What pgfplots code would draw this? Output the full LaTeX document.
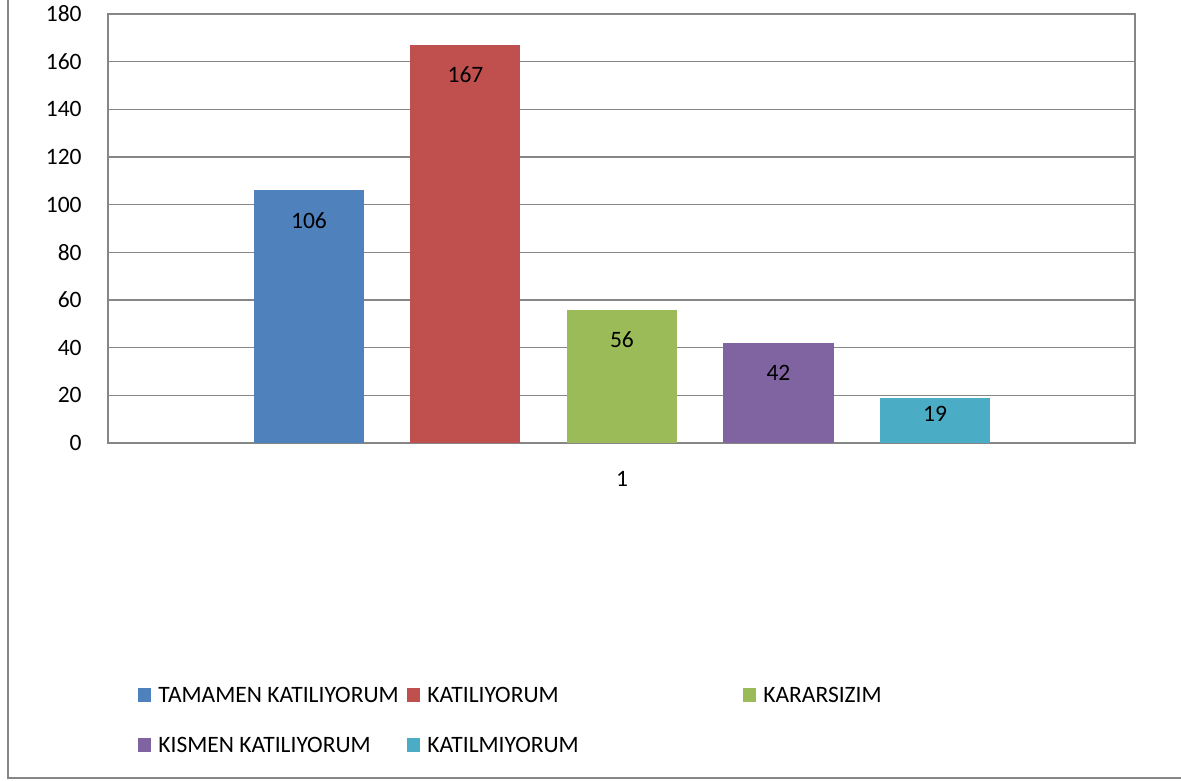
\documentclass[border=0pt]{standalone}
\usepackage{fontspec}
\setmainfont{Carlito}
\usepackage{pgfplots}
\pgfplotsset{compat=1.18}
\definecolor{cblue}{HTML}{4F81BD}
\definecolor{cred}{HTML}{C0504D}
\definecolor{cgreen}{HTML}{9BBB59}
\definecolor{cpurple}{HTML}{8064A2}
\definecolor{cteal}{HTML}{4BACC6}
\definecolor{gridgray}{HTML}{868686}
\pgfplotsset{
  mybar/.style={ybar, bar width=0.703, bar shift=0pt, draw=none, fill=#1,
    legend image code/.code={\fill[#1] (0bp,0.4bp) rectangle (6.5bp,7.2bp);}},
}
\begin{document}
\fontsize{11.75bp}{14bp}\selectfont
\begin{tikzpicture}
\begin{axis}[
  at={(54bp,-221.5bp)}, anchor=south west,
  scale only axis, width=513.5bp, height=214.5bp,
  xmin=-1.284, xmax=5.278, ymin=0, ymax=180,
  ytick={0,20,...,180}, xtick={2}, xticklabels={1},
  major tick length=0pt,
  ymajorgrids, grid style={gridgray, line width=0.75bp},
  axis line style={gridgray, line width=0.75bp},
  tick label style={font=\fontsize{11.75bp}{14bp}\selectfont},
  yticklabel style={anchor=east, inner sep=0pt, xshift=-13bp},
  xticklabel style={anchor=north, inner sep=0pt, yshift=-14bp},
  /pgf/number format/assume math mode=true,
  nodes near coords,
  every node near coord/.append style={font=\fontsize{11.75bp}{14bp}\selectfont, black, anchor=center, yshift=-15bp},
  legend columns=3,
  legend style={at={(0.0292,-0.562)}, anchor=north west, draw=none, fill=none,
    inner sep=0pt, column sep=0pt, row sep=13bp,
    nodes={inner sep=0pt, text height=9bp, text depth=3bp, anchor=base west},
    font=\fontsize{11.75bp}{14bp}\selectfont},
  legend cell align=left,
]
\addplot[mybar=cblue] coordinates {(0,106)};
\addlegendentry{\makebox[128bp][l]{\hspace{3.5bp}TAMAMEN KATILIYORUM}}
\addplot[mybar=cred] coordinates {(1,167)};
\addlegendentry{\makebox[161.5bp][l]{\hspace{3.5bp}KATILIYORUM}}
\addplot[mybar=cgreen] coordinates {(2,56)};
\addlegendentry{\makebox[80bp][l]{\hspace{3.5bp}KARARSIZIM}}
\addplot[mybar=cpurple] coordinates {(3,42)};
\addlegendentry{\makebox[128bp][l]{\hspace{3.5bp}KISMEN KATILIYORUM}}
\addplot[mybar=cteal, every node near coord/.append style={yshift=7bp}] coordinates {(4,19)};
\addlegendentry{\makebox[161.5bp][l]{\hspace{3.5bp}KATILMIYORUM}}
\end{axis}
\draw[gridgray, line width=0.75bp] (4bp,20bp) -- (4bp,-389bp) -- (620bp,-389bp);
\pgfresetboundingbox
\useasboundingbox (0,0) rectangle (590.5bp,-390.5bp);
\end{tikzpicture}
\end{document}
